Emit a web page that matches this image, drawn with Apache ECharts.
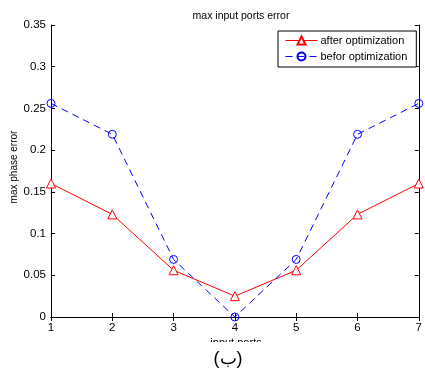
<!DOCTYPE html>
<html><head><meta charset="utf-8">
<script src="https://cdn.jsdelivr.net/npm/echarts@6/dist/echarts.min.js"></script>
<style>html,body{margin:0;padding:0;background:#fff}#c{width:425px;height:372px}</style>
</head><body><div id="c"></div>
<script>
var ports = [1, 2, 3, 4, 5, 6, 7];
var afterOpt = [0.160, 0.123, 0.056, 0.025, 0.056, 0.123, 0.160];
var beforOpt = [0.256, 0.219, 0.069, 0.000, 0.069, 0.219, 0.256];
var yTicks = [0, 0.05, 0.1, 0.15, 0.2, 0.25, 0.3, 0.35];

var font = 'Liberation Sans, Arial, sans-serif';
var chart = echarts.init(document.getElementById('c'), null, {renderer: 'canvas'});
function pairs(vals){ return ports.map(function(p,i){ return [p, vals[i]]; }); }
var axisLine = {show: true, lineStyle: {color: '#000', width: 1}};
chart.setOption({
  animation: false,
  backgroundColor: '#fff',
  title: {text: 'max input ports error', left: 236, top: 6, textAlign: 'center',
    textStyle: {fontFamily: font, fontSize: 10.5, fontWeight: 'normal', color: '#000'}},
  grid: {left: 51, right: 2, top: 25, bottom: 55, containLabel: false},
  legend: {
    orient: 'vertical', left: 278, top: 31,
    backgroundColor: '#fff', borderColor: '#000', borderWidth: 1,
    padding: [4, 9, 5, 7], itemGap: 5, itemWidth: 32, itemHeight: 10,
    lineStyle: {width: 1},
    textStyle: {fontFamily: font, fontSize: 11, color: '#000', padding: [0,0,0,-2]},
    data: ['after optimization', 'befor optimization']
  },
  xAxis: [
    {type: 'value', min: 1, max: 7, interval: 1, position: 'bottom',
     axisLine: axisLine, axisTick: {inside: true, length: 4, lineStyle: {color: '#000'}},
     axisLabel: {fontFamily: font, fontSize: 11.5, color: '#000', margin: 5},
     splitLine: {show: false}},
    {type: 'value', min: 1, max: 7, interval: 1, position: 'top',
     axisLine: axisLine, axisTick: {inside: true, length: 4, lineStyle: {color: '#000'}},
     axisLabel: {show: false}, splitLine: {show: false}}
  ],
  yAxis: [
    {type: 'value', min: 0, max: 0.35, interval: 0.05, position: 'left',
     axisLine: axisLine, axisTick: {inside: true, length: 4, lineStyle: {color: '#000'}},
     axisLabel: {fontFamily: font, fontSize: 11.5, color: '#000', margin: 5,
       formatter: function(v){ var s = yTicks.filter(function(t){return Math.abs(t-v)<1e-9;}); return s.length ? String(+v.toFixed(2)) : ''; }},
     splitLine: {show: false}},
    {type: 'value', min: 0, max: 0.35, interval: 0.05, position: 'right',
     axisLine: axisLine, axisTick: {inside: true, length: 4, lineStyle: {color: '#000'}},
     axisLabel: {show: false}, splitLine: {show: false}}
  ],
  series: [
    {name: 'after optimization', type: 'line', data: pairs(afterOpt), clip: false,
     symbol: 'triangle', symbolSize: 9,
     lineStyle: {color: '#ff0000', width: 1, type: 'solid'},
     itemStyle: {color: '#fff', borderColor: '#ff0000', borderWidth: 1},
     emphasis: {disabled: true}},
    {name: 'befor optimization', type: 'line', data: pairs(beforOpt), clip: false,
     symbol: 'circle', symbolSize: 8,
     lineStyle: {color: '#0000ff', width: 1, type: [7, 5]},
     itemStyle: {color: 'rgba(0,0,0,0)', borderColor: '#0000ff', borderWidth: 1},
     emphasis: {disabled: true}}
  ],
  graphic: [
    {type: 'text', x: 14, y: 167, rotation: Math.PI/2, style: {text: 'max phase error', font: '10px ' + font, fill: '#000', textAlign: 'center', textVerticalAlign: 'middle'}},
    {type: 'text', style: {text: 'input ports', x: 236, y: 337, font: '11px ' + font, fill: '#000', textAlign: 'center', textVerticalAlign: 'top'}},
    {type: 'rect', shape: {x: 200, y: 342, width: 80, height: 10}, style: {fill: '#fff'}},
    {type: 'text', style: {text: '(ب)', x: 228, y: 359, font: '18px ' + font, fill: '#000', textAlign: 'center', textVerticalAlign: 'middle'}}
  ]
});
</script></body></html>
